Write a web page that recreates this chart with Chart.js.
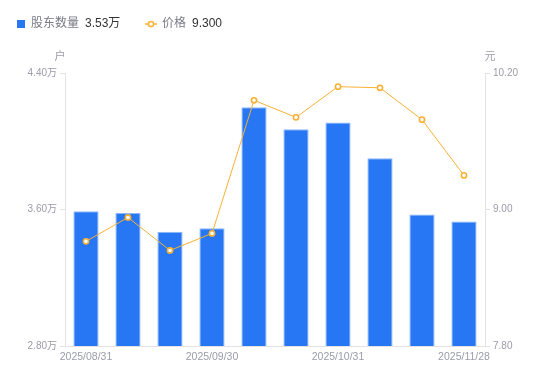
<!DOCTYPE html>
<html lang="zh">
<head>
    <meta charset="UTF-8">
    <title>股东数量与价格</title>
    <script src="https://cdn.jsdelivr.net/npm/chart.js"></script>
    <style>
        body { margin: 0; background: #fff; }
        #wrap { position: relative; width: 550px; height: 381px; }
    </style>
</head>
<body>
<div id="wrap"><canvas id="holderChart" width="550" height="381"></canvas></div>
<script>
    // data
    const dates = ['2025/08/31', '2025/09/15', '2025/09/20', '2025/09/30', '2025/10/10',
                   '2025/10/20', '2025/10/31', '2025/11/10', '2025/11/20', '2025/11/28'];
    const holders = [3.59, 3.58, 3.47, 3.49, 4.20, 4.07, 4.11, 3.90, 3.57, 3.53]; // 万户
    const prices = [8.72, 8.93, 8.64, 8.79, 9.96, 9.81, 10.08, 10.07, 9.79, 9.30];
    const shownDates = ['2025/08/31', '2025/09/30', '2025/10/31', '2025/11/28'];
    const holderTicks = [2.80, 3.60, 4.40];
    const priceTicks = [7.80, 9.00, 10.20];

    const FONT = '"Liberation Sans", "Noto Sans CJK SC", sans-serif';
    const BLUE = '#2777f5';
    const ORANGE = '#f8b135';
    const GREY = '#9b9bab';
    const LINE = '#e3e3e3';

    // legend + unit labels drawn on the canvas
    const extras = {
        id: 'extras',
        afterDraw(chart) {
            const ctx = chart.ctx;
            ctx.save();
            ctx.textBaseline = 'middle';
            ctx.font = '12px ' + FONT;

            ctx.fillStyle = BLUE;
            ctx.fillRect(17, 20, 8, 8);
            ctx.fillStyle = '#7a7a86';
            ctx.fillText('股东数量', 31, 24);
            ctx.fillStyle = '#333';
            ctx.fillText(holders[holders.length - 1].toFixed(2) + '万', 85, 24);

            ctx.strokeStyle = ORANGE;
            ctx.lineWidth = 1.5;
            ctx.beginPath();
            ctx.moveTo(145, 24); ctx.lineTo(157, 24); ctx.stroke();
            ctx.fillStyle = '#fff';
            ctx.beginPath(); ctx.arc(151, 24, 2.6, 0, Math.PI * 2); ctx.fill(); ctx.stroke();
            ctx.fillStyle = '#7a7a86';
            ctx.fillText('价格', 162, 24);
            ctx.fillStyle = '#333';
            ctx.fillText(prices[prices.length - 1].toFixed(3), 192, 24);

            ctx.fillStyle = GREY;
            ctx.font = '11px ' + FONT;
            ctx.textAlign = 'center';
            ctx.fillText('户', 60, 57);
            ctx.fillText('元', 490, 57);
            ctx.restore();
        }
    };

    new Chart(document.getElementById('holderChart'), {
        data: {
            labels: dates,
            datasets: [{
                type: 'line',
                label: '价格',
                data: prices,
                yAxisID: 'yPrice',
                borderColor: ORANGE,
                borderWidth: 1,
                pointRadius: 2.6,
                pointBorderWidth: 1.6,
                pointBackgroundColor: '#fff',
                pointBorderColor: ORANGE,
                tension: 0,
                order: 0
            }, {
                type: 'bar',
                label: '股东数量',
                data: holders,
                yAxisID: 'yHolders',
                backgroundColor: BLUE,
                borderColor: '#8fb8fb',
                borderWidth: { top: 1, left: 1, right: 1, bottom: 0 },
                barPercentage: 0.6,
                categoryPercentage: 1,
                order: 1
            }]
        },
        options: {
            responsive: false,
            animation: false,
            devicePixelRatio: 1,
            layout: { padding: { top: 73, left: 0, right: 0, bottom: 0 } },
            plugins: { legend: { display: false }, tooltip: { enabled: false } },
            scales: {
                x: {
                    offset: true,
                    grid: { display: true, drawOnChartArea: false, drawTicks: false, color: LINE },
                    border: { display: true, color: LINE },
                    ticks: {
                        autoSkip: false,
                        maxRotation: 0,
                        padding: 5,
                        color: GREY,
                        font: { family: FONT, size: 10.5 },
                        callback(v, i) {
                            const d = dates[i];
                            return shownDates.includes(d) ? d : '';
                        }
                    },
                    afterFit(s) { s.height = 35; }
                },
                yHolders: {
                    position: 'left',
                    min: holderTicks[0],
                    max: holderTicks[holderTicks.length - 1],
                    afterBuildTicks(s) { s.ticks = holderTicks.map(v => ({ value: v })); },
                    grid: { drawOnChartArea: false, tickLength: 5, color: LINE },
                    border: { display: true, color: LINE },
                    ticks: {
                        padding: 3,
                        color: GREY,
                        font: { family: FONT, size: 10 },
                        callback: v => v.toFixed(2) + '万'
                    },
                    afterFit(s) { s.width = 65; }
                },
                yPrice: {
                    position: 'right',
                    min: priceTicks[0],
                    max: priceTicks[priceTicks.length - 1],
                    afterBuildTicks(s) { s.ticks = priceTicks.map(v => ({ value: v })); },
                    grid: { drawOnChartArea: false, tickLength: 5, color: LINE },
                    border: { display: true, color: LINE },
                    ticks: {
                        padding: 3,
                        color: GREY,
                        font: { family: FONT, size: 10 },
                        callback: v => v.toFixed(2)
                    },
                    afterFit(s) { s.width = 65; }
                }
            }
        },
        plugins: [extras]
    });
</script>
</body>
</html>
